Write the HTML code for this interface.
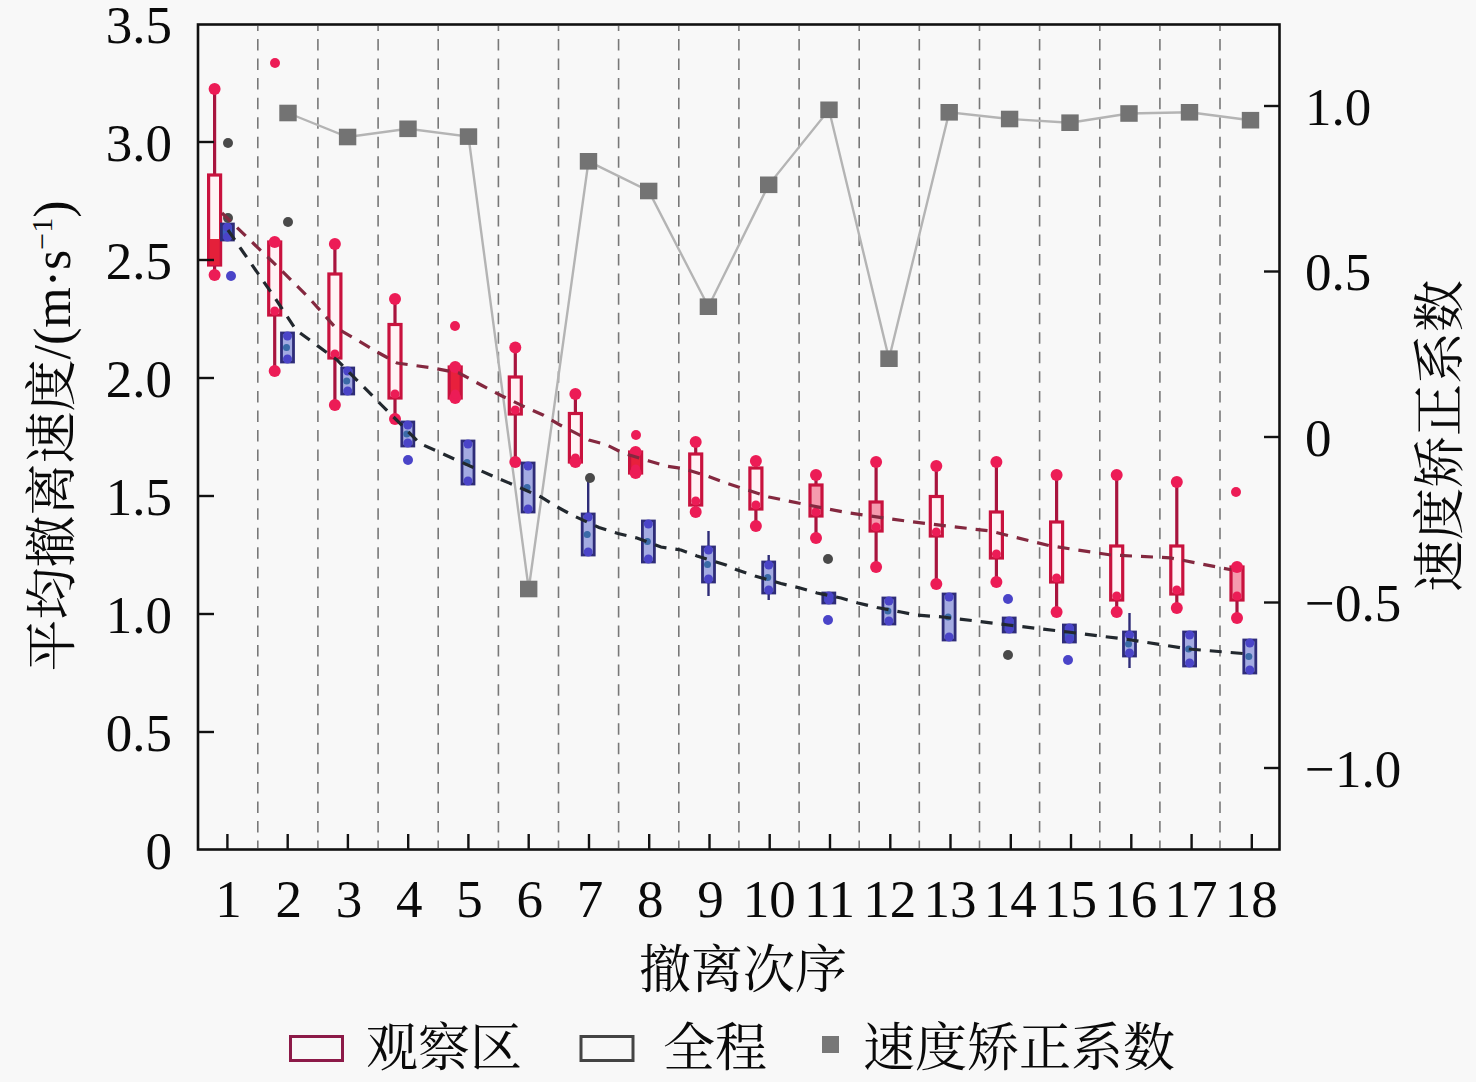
<!DOCTYPE html>
<html><head><meta charset="utf-8"><style>
html,body{margin:0;padding:0;background:#f8f8f8;}
svg{display:block;}
.n{font-family:"Liberation Serif",serif;font-size:53px;fill:#0a0a0a;}
.c{font-family:"Liberation Serif","Noto Serif CJK SC",serif;font-size:52px;fill:#0a0a0a;}
</style></head><body>
<svg width="1476" height="1082" viewBox="0 0 1476 1082">
<rect width="1476" height="1082" fill="#f8f8f8"/>
<line x1="257.8" y1="26" x2="257.8" y2="848" stroke="#787878" stroke-width="1.6" stroke-dasharray="11.5 8.05" stroke-dashoffset="6.55"/>
<line x1="317.9" y1="26" x2="317.9" y2="848" stroke="#787878" stroke-width="1.6" stroke-dasharray="11.5 8.05" stroke-dashoffset="6.55"/>
<line x1="378.1" y1="26" x2="378.1" y2="848" stroke="#787878" stroke-width="1.6" stroke-dasharray="11.5 8.05" stroke-dashoffset="6.55"/>
<line x1="438.2" y1="26" x2="438.2" y2="848" stroke="#787878" stroke-width="1.6" stroke-dasharray="11.5 8.05" stroke-dashoffset="6.55"/>
<line x1="498.4" y1="26" x2="498.4" y2="848" stroke="#787878" stroke-width="1.6" stroke-dasharray="11.5 8.05" stroke-dashoffset="6.55"/>
<line x1="558.5" y1="26" x2="558.5" y2="848" stroke="#787878" stroke-width="1.6" stroke-dasharray="11.5 8.05" stroke-dashoffset="6.55"/>
<line x1="618.6" y1="26" x2="618.6" y2="848" stroke="#787878" stroke-width="1.6" stroke-dasharray="11.5 8.05" stroke-dashoffset="6.55"/>
<line x1="678.8" y1="26" x2="678.8" y2="848" stroke="#787878" stroke-width="1.6" stroke-dasharray="11.5 8.05" stroke-dashoffset="6.55"/>
<line x1="738.9" y1="26" x2="738.9" y2="848" stroke="#787878" stroke-width="1.6" stroke-dasharray="11.5 8.05" stroke-dashoffset="6.55"/>
<line x1="799.1" y1="26" x2="799.1" y2="848" stroke="#787878" stroke-width="1.6" stroke-dasharray="11.5 8.05" stroke-dashoffset="6.55"/>
<line x1="859.2" y1="26" x2="859.2" y2="848" stroke="#787878" stroke-width="1.6" stroke-dasharray="11.5 8.05" stroke-dashoffset="6.55"/>
<line x1="919.3" y1="26" x2="919.3" y2="848" stroke="#787878" stroke-width="1.6" stroke-dasharray="11.5 8.05" stroke-dashoffset="6.55"/>
<line x1="979.5" y1="26" x2="979.5" y2="848" stroke="#787878" stroke-width="1.6" stroke-dasharray="11.5 8.05" stroke-dashoffset="6.55"/>
<line x1="1039.6" y1="26" x2="1039.6" y2="848" stroke="#787878" stroke-width="1.6" stroke-dasharray="11.5 8.05" stroke-dashoffset="6.55"/>
<line x1="1099.8" y1="26" x2="1099.8" y2="848" stroke="#787878" stroke-width="1.6" stroke-dasharray="11.5 8.05" stroke-dashoffset="6.55"/>
<line x1="1159.9" y1="26" x2="1159.9" y2="848" stroke="#787878" stroke-width="1.6" stroke-dasharray="11.5 8.05" stroke-dashoffset="6.55"/>
<line x1="1220.0" y1="26" x2="1220.0" y2="848" stroke="#787878" stroke-width="1.6" stroke-dasharray="11.5 8.05" stroke-dashoffset="6.55"/>
<polyline points="288,113 347.6,137 408,128.8 468.5,136.6 528.7,589 588.5,161.3 648.7,191 708.4,306.7 768.7,184.8 829,109.8 889,358.7 949.2,112.3 1009.6,119 1070,122.7 1129,113.5 1189.5,112.3 1250.5,120.2" fill="none" stroke="#b4b4b4" stroke-width="2.4"/>
<rect x="279.3" y="104.7" width="17.4" height="16.6" fill="#737373"/>
<rect x="338.9" y="128.7" width="17.4" height="16.6" fill="#737373"/>
<rect x="399.3" y="120.5" width="17.4" height="16.6" fill="#737373"/>
<rect x="459.8" y="128.3" width="17.4" height="16.6" fill="#737373"/>
<rect x="520.0" y="580.7" width="17.4" height="16.6" fill="#737373"/>
<rect x="579.8" y="153.0" width="17.4" height="16.6" fill="#737373"/>
<rect x="640.0" y="182.7" width="17.4" height="16.6" fill="#737373"/>
<rect x="699.7" y="298.4" width="17.4" height="16.6" fill="#737373"/>
<rect x="760.0" y="176.5" width="17.4" height="16.6" fill="#737373"/>
<rect x="820.3" y="101.5" width="17.4" height="16.6" fill="#737373"/>
<rect x="880.3" y="350.4" width="17.4" height="16.6" fill="#737373"/>
<rect x="940.5" y="104.0" width="17.4" height="16.6" fill="#737373"/>
<rect x="1000.9" y="110.7" width="17.4" height="16.6" fill="#737373"/>
<rect x="1061.3" y="114.4" width="17.4" height="16.6" fill="#737373"/>
<rect x="1120.3" y="105.2" width="17.4" height="16.6" fill="#737373"/>
<rect x="1180.8" y="104.0" width="17.4" height="16.6" fill="#737373"/>
<rect x="1241.8" y="111.9" width="17.4" height="16.6" fill="#737373"/>
<line x1="214.6" y1="89" x2="214.6" y2="275" stroke="#a8143e" stroke-width="3.2"/>
<rect x="208.6" y="175" width="12" height="90" fill="#fff2f5" stroke="#c8123e" stroke-width="3.2"/>
<circle cx="214.6" cy="89" r="6" fill="#ec1c56"/><circle cx="214.6" cy="275" r="6" fill="#ec1c56"/>
<circle cx="214.6" cy="261" r="4.5" fill="#ec1c56"/>
<rect x="209.6" y="239" width="10" height="26" fill="#e4203a"/>
<line x1="274.7" y1="242" x2="274.7" y2="371" stroke="#a8143e" stroke-width="3.2"/>
<rect x="268.7" y="242" width="12" height="73" fill="#fff2f5" stroke="#c8123e" stroke-width="3.2"/>
<circle cx="274.7" cy="242" r="6" fill="#ec1c56"/><circle cx="274.7" cy="371" r="6" fill="#ec1c56"/>
<circle cx="274.7" cy="311" r="4.5" fill="#ec1c56"/>
<line x1="334.9" y1="244" x2="334.9" y2="405" stroke="#a8143e" stroke-width="3.2"/>
<rect x="328.9" y="274" width="12" height="84" fill="#fff2f5" stroke="#c8123e" stroke-width="3.2"/>
<circle cx="334.9" cy="244" r="6" fill="#ec1c56"/><circle cx="334.9" cy="405" r="6" fill="#ec1c56"/>
<circle cx="334.9" cy="354" r="4.5" fill="#ec1c56"/>
<line x1="395.0" y1="299" x2="395.0" y2="419" stroke="#a8143e" stroke-width="3.2"/>
<rect x="389.0" y="324.5" width="12" height="73.5" fill="#fff2f5" stroke="#c8123e" stroke-width="3.2"/>
<circle cx="395.0" cy="299" r="6" fill="#ec1c56"/><circle cx="395.0" cy="419" r="6" fill="#ec1c56"/>
<circle cx="395.0" cy="394" r="4.5" fill="#ec1c56"/>
<line x1="455.2" y1="367" x2="455.2" y2="398" stroke="#a8143e" stroke-width="3.2"/>
<rect x="449.2" y="367" width="12" height="31" fill="#e8203c" stroke="#c8123e" stroke-width="3.2"/>
<circle cx="455.2" cy="367" r="6" fill="#ec1c56"/><circle cx="455.2" cy="398" r="6" fill="#ec1c56"/>
<circle cx="455.2" cy="394" r="4.5" fill="#ec1c56"/>
<line x1="515.3" y1="347.5" x2="515.3" y2="462" stroke="#a8143e" stroke-width="3.2"/>
<rect x="509.3" y="377" width="12" height="37" fill="#fff2f5" stroke="#c8123e" stroke-width="3.2"/>
<circle cx="515.3" cy="347.5" r="6" fill="#ec1c56"/><circle cx="515.3" cy="462" r="6" fill="#ec1c56"/>
<circle cx="515.3" cy="410" r="4.5" fill="#ec1c56"/>
<line x1="575.4" y1="394" x2="575.4" y2="462" stroke="#a8143e" stroke-width="3.2"/>
<rect x="569.4" y="413.5" width="12" height="48.5" fill="#fff2f5" stroke="#c8123e" stroke-width="3.2"/>
<circle cx="575.4" cy="394" r="6" fill="#ec1c56"/><circle cx="575.4" cy="462" r="6" fill="#ec1c56"/>
<circle cx="575.4" cy="458" r="4.5" fill="#ec1c56"/>
<line x1="635.6" y1="452" x2="635.6" y2="473" stroke="#a8143e" stroke-width="3.2"/>
<rect x="629.6" y="452" width="12" height="21" fill="#e8203c" stroke="#c8123e" stroke-width="3.2"/>
<circle cx="635.6" cy="452" r="6" fill="#ec1c56"/><circle cx="635.6" cy="473" r="6" fill="#ec1c56"/>
<circle cx="635.6" cy="469" r="4.5" fill="#ec1c56"/>
<line x1="695.7" y1="442" x2="695.7" y2="512" stroke="#a8143e" stroke-width="3.2"/>
<rect x="689.7" y="454" width="12" height="51" fill="#fff2f5" stroke="#c8123e" stroke-width="3.2"/>
<circle cx="695.7" cy="442" r="6" fill="#ec1c56"/><circle cx="695.7" cy="512" r="6" fill="#ec1c56"/>
<circle cx="695.7" cy="501" r="4.5" fill="#ec1c56"/>
<line x1="755.9" y1="461" x2="755.9" y2="526" stroke="#a8143e" stroke-width="3.2"/>
<rect x="749.9" y="468" width="12" height="41" fill="#fff2f5" stroke="#c8123e" stroke-width="3.2"/>
<circle cx="755.9" cy="461" r="6" fill="#ec1c56"/><circle cx="755.9" cy="526" r="6" fill="#ec1c56"/>
<circle cx="755.9" cy="505" r="4.5" fill="#ec1c56"/>
<line x1="816.0" y1="475" x2="816.0" y2="538" stroke="#a8143e" stroke-width="3.2"/>
<rect x="810.0" y="485" width="12" height="31" fill="#f59aae" stroke="#c8123e" stroke-width="3.2"/>
<circle cx="816.0" cy="475" r="6" fill="#ec1c56"/><circle cx="816.0" cy="538" r="6" fill="#ec1c56"/>
<circle cx="816.0" cy="512" r="4.5" fill="#ec1c56"/>
<line x1="876.1" y1="462" x2="876.1" y2="567" stroke="#a8143e" stroke-width="3.2"/>
<rect x="870.1" y="502" width="12" height="29" fill="#f59aae" stroke="#c8123e" stroke-width="3.2"/>
<circle cx="876.1" cy="462" r="6" fill="#ec1c56"/><circle cx="876.1" cy="567" r="6" fill="#ec1c56"/>
<circle cx="876.1" cy="527" r="4.5" fill="#ec1c56"/>
<line x1="936.3" y1="466" x2="936.3" y2="584" stroke="#a8143e" stroke-width="3.2"/>
<rect x="930.3" y="496.5" width="12" height="39.5" fill="#fff2f5" stroke="#c8123e" stroke-width="3.2"/>
<circle cx="936.3" cy="466" r="6" fill="#ec1c56"/><circle cx="936.3" cy="584" r="6" fill="#ec1c56"/>
<circle cx="936.3" cy="532" r="4.5" fill="#ec1c56"/>
<line x1="996.4" y1="462" x2="996.4" y2="582" stroke="#a8143e" stroke-width="3.2"/>
<rect x="990.4" y="512" width="12" height="46" fill="#fff2f5" stroke="#c8123e" stroke-width="3.2"/>
<circle cx="996.4" cy="462" r="6" fill="#ec1c56"/><circle cx="996.4" cy="582" r="6" fill="#ec1c56"/>
<circle cx="996.4" cy="554" r="4.5" fill="#ec1c56"/>
<line x1="1056.6" y1="475" x2="1056.6" y2="612" stroke="#a8143e" stroke-width="3.2"/>
<rect x="1050.6" y="522" width="12" height="60" fill="#fff2f5" stroke="#c8123e" stroke-width="3.2"/>
<circle cx="1056.6" cy="475" r="6" fill="#ec1c56"/><circle cx="1056.6" cy="612" r="6" fill="#ec1c56"/>
<circle cx="1056.6" cy="578" r="4.5" fill="#ec1c56"/>
<line x1="1116.7" y1="475" x2="1116.7" y2="612" stroke="#a8143e" stroke-width="3.2"/>
<rect x="1110.7" y="546" width="12" height="54" fill="#fff2f5" stroke="#c8123e" stroke-width="3.2"/>
<circle cx="1116.7" cy="475" r="6" fill="#ec1c56"/><circle cx="1116.7" cy="612" r="6" fill="#ec1c56"/>
<circle cx="1116.7" cy="596" r="4.5" fill="#ec1c56"/>
<line x1="1176.8" y1="482" x2="1176.8" y2="608" stroke="#a8143e" stroke-width="3.2"/>
<rect x="1170.8" y="546" width="12" height="48" fill="#fff2f5" stroke="#c8123e" stroke-width="3.2"/>
<circle cx="1176.8" cy="482" r="6" fill="#ec1c56"/><circle cx="1176.8" cy="608" r="6" fill="#ec1c56"/>
<circle cx="1176.8" cy="590" r="4.5" fill="#ec1c56"/>
<line x1="1237.0" y1="567" x2="1237.0" y2="618" stroke="#a8143e" stroke-width="3.2"/>
<rect x="1231.0" y="567" width="12" height="33" fill="#f59aae" stroke="#c8123e" stroke-width="3.2"/>
<circle cx="1237.0" cy="567" r="6" fill="#ec1c56"/><circle cx="1237.0" cy="618" r="6" fill="#ec1c56"/>
<circle cx="1237.0" cy="596" r="4.5" fill="#ec1c56"/>
<line x1="227.4" y1="224" x2="227.4" y2="240" stroke="#2e2c78" stroke-width="2.4"/>
<rect x="221.4" y="224" width="12" height="16" fill="#3c5ec0" stroke="#2e2c78" stroke-width="2.8"/>
<circle cx="227.4" cy="227" r="4.5" fill="#4a44c8"/><circle cx="227.4" cy="237" r="4.5" fill="#4a44c8"/>
<line x1="287.5" y1="333" x2="287.5" y2="362" stroke="#2e2c78" stroke-width="2.4"/>
<rect x="281.5" y="333" width="12" height="29" fill="#a4abe2" stroke="#2e2c78" stroke-width="2.8"/>
<circle cx="287.5" cy="336" r="4.5" fill="#4a44c8"/><circle cx="287.5" cy="359" r="4.5" fill="#4a44c8"/>
<circle cx="286.5" cy="347.5" r="3.5" fill="#3a6aa8"/>
<line x1="347.7" y1="368" x2="347.7" y2="394" stroke="#2e2c78" stroke-width="2.4"/>
<rect x="341.7" y="368" width="12" height="26" fill="#a4abe2" stroke="#2e2c78" stroke-width="2.8"/>
<circle cx="347.7" cy="371" r="4.5" fill="#4a44c8"/><circle cx="347.7" cy="391" r="4.5" fill="#4a44c8"/>
<circle cx="346.7" cy="381.0" r="3.5" fill="#3a6aa8"/>
<line x1="407.8" y1="422" x2="407.8" y2="446" stroke="#2e2c78" stroke-width="2.4"/>
<rect x="401.8" y="422" width="12" height="24" fill="#a4abe2" stroke="#2e2c78" stroke-width="2.8"/>
<circle cx="407.8" cy="425" r="4.5" fill="#4a44c8"/><circle cx="407.8" cy="443" r="4.5" fill="#4a44c8"/>
<circle cx="406.8" cy="434.0" r="3.5" fill="#3a6aa8"/>
<line x1="468.0" y1="441" x2="468.0" y2="484" stroke="#2e2c78" stroke-width="2.4"/>
<rect x="462.0" y="441" width="12" height="43" fill="#a4abe2" stroke="#2e2c78" stroke-width="2.8"/>
<circle cx="468.0" cy="444" r="4.5" fill="#4a44c8"/><circle cx="468.0" cy="481" r="4.5" fill="#4a44c8"/>
<circle cx="467.0" cy="462.5" r="3.5" fill="#3a6aa8"/>
<line x1="528.1" y1="463" x2="528.1" y2="512" stroke="#2e2c78" stroke-width="2.4"/>
<rect x="522.1" y="463" width="12" height="49" fill="#a4abe2" stroke="#2e2c78" stroke-width="2.8"/>
<circle cx="528.1" cy="466" r="4.5" fill="#4a44c8"/><circle cx="528.1" cy="509" r="4.5" fill="#4a44c8"/>
<circle cx="527.1" cy="487.5" r="3.5" fill="#3a6aa8"/>
<line x1="588.2" y1="478" x2="588.2" y2="555" stroke="#2e2c78" stroke-width="2.4"/>
<rect x="582.2" y="514" width="12" height="41" fill="#a4abe2" stroke="#2e2c78" stroke-width="2.8"/>
<circle cx="588.2" cy="517" r="4.5" fill="#4a44c8"/><circle cx="588.2" cy="552" r="4.5" fill="#4a44c8"/>
<circle cx="587.2" cy="534.5" r="3.5" fill="#3a6aa8"/>
<line x1="648.4" y1="521" x2="648.4" y2="562" stroke="#2e2c78" stroke-width="2.4"/>
<rect x="642.4" y="521" width="12" height="41" fill="#a4abe2" stroke="#2e2c78" stroke-width="2.8"/>
<circle cx="648.4" cy="524" r="4.5" fill="#4a44c8"/><circle cx="648.4" cy="559" r="4.5" fill="#4a44c8"/>
<circle cx="647.4" cy="541.5" r="3.5" fill="#3a6aa8"/>
<line x1="708.5" y1="531" x2="708.5" y2="596" stroke="#2e2c78" stroke-width="2.4"/>
<rect x="702.5" y="547" width="12" height="35" fill="#a4abe2" stroke="#2e2c78" stroke-width="2.8"/>
<circle cx="708.5" cy="550" r="4.5" fill="#4a44c8"/><circle cx="708.5" cy="579" r="4.5" fill="#4a44c8"/>
<circle cx="707.5" cy="564.5" r="3.5" fill="#3a6aa8"/>
<line x1="768.7" y1="555" x2="768.7" y2="600" stroke="#2e2c78" stroke-width="2.4"/>
<rect x="762.7" y="562" width="12" height="31" fill="#a4abe2" stroke="#2e2c78" stroke-width="2.8"/>
<circle cx="768.7" cy="565" r="4.5" fill="#4a44c8"/><circle cx="768.7" cy="590" r="4.5" fill="#4a44c8"/>
<circle cx="767.7" cy="577.5" r="3.5" fill="#3a6aa8"/>
<line x1="828.8" y1="593" x2="828.8" y2="603" stroke="#2e2c78" stroke-width="2.4"/>
<rect x="822.8" y="593" width="12" height="10" fill="#3c5ec0" stroke="#2e2c78" stroke-width="2.8"/>
<circle cx="828.8" cy="596" r="4.5" fill="#4a44c8"/><circle cx="828.8" cy="600" r="4.5" fill="#4a44c8"/>
<line x1="888.9" y1="598" x2="888.9" y2="624" stroke="#2e2c78" stroke-width="2.4"/>
<rect x="882.9" y="598" width="12" height="26" fill="#a4abe2" stroke="#2e2c78" stroke-width="2.8"/>
<circle cx="888.9" cy="601" r="4.5" fill="#4a44c8"/><circle cx="888.9" cy="621" r="4.5" fill="#4a44c8"/>
<circle cx="887.9" cy="611.0" r="3.5" fill="#3a6aa8"/>
<line x1="949.1" y1="594" x2="949.1" y2="640" stroke="#2e2c78" stroke-width="2.4"/>
<rect x="943.1" y="594" width="12" height="46" fill="#a4abe2" stroke="#2e2c78" stroke-width="2.8"/>
<circle cx="949.1" cy="597" r="4.5" fill="#4a44c8"/><circle cx="949.1" cy="637" r="4.5" fill="#4a44c8"/>
<circle cx="948.1" cy="617.0" r="3.5" fill="#3a6aa8"/>
<line x1="1009.2" y1="618" x2="1009.2" y2="632" stroke="#2e2c78" stroke-width="2.4"/>
<rect x="1003.2" y="618" width="12" height="14" fill="#3c5ec0" stroke="#2e2c78" stroke-width="2.8"/>
<circle cx="1009.2" cy="621" r="4.5" fill="#4a44c8"/><circle cx="1009.2" cy="629" r="4.5" fill="#4a44c8"/>
<line x1="1069.4" y1="625" x2="1069.4" y2="642" stroke="#2e2c78" stroke-width="2.4"/>
<rect x="1063.4" y="625" width="12" height="17" fill="#3c5ec0" stroke="#2e2c78" stroke-width="2.8"/>
<circle cx="1069.4" cy="628" r="4.5" fill="#4a44c8"/><circle cx="1069.4" cy="639" r="4.5" fill="#4a44c8"/>
<line x1="1129.5" y1="613" x2="1129.5" y2="668" stroke="#2e2c78" stroke-width="2.4"/>
<rect x="1123.5" y="632" width="12" height="24" fill="#a4abe2" stroke="#2e2c78" stroke-width="2.8"/>
<circle cx="1129.5" cy="635" r="4.5" fill="#4a44c8"/><circle cx="1129.5" cy="653" r="4.5" fill="#4a44c8"/>
<circle cx="1128.5" cy="644.0" r="3.5" fill="#3a6aa8"/>
<line x1="1189.6" y1="632" x2="1189.6" y2="666" stroke="#2e2c78" stroke-width="2.4"/>
<rect x="1183.6" y="632" width="12" height="34" fill="#a4abe2" stroke="#2e2c78" stroke-width="2.8"/>
<circle cx="1189.6" cy="635" r="4.5" fill="#4a44c8"/><circle cx="1189.6" cy="663" r="4.5" fill="#4a44c8"/>
<circle cx="1188.6" cy="649.0" r="3.5" fill="#3a6aa8"/>
<line x1="1249.8" y1="640" x2="1249.8" y2="673" stroke="#2e2c78" stroke-width="2.4"/>
<rect x="1243.8" y="640" width="12" height="33" fill="#a4abe2" stroke="#2e2c78" stroke-width="2.8"/>
<circle cx="1249.8" cy="643" r="4.5" fill="#4a44c8"/><circle cx="1249.8" cy="670" r="4.5" fill="#4a44c8"/>
<circle cx="1248.8" cy="656.5" r="3.5" fill="#3a6aa8"/>
<circle cx="455" cy="326" r="5" fill="#ec1c56"/>
<circle cx="636" cy="435" r="5" fill="#ec1c56"/>
<circle cx="1236" cy="492" r="5" fill="#ec1c56"/>
<circle cx="275" cy="63" r="5" fill="#ec1c56"/>
<circle cx="231" cy="276" r="5" fill="#4a44c8"/>
<circle cx="408" cy="460" r="5" fill="#4a44c8"/>
<circle cx="828" cy="620" r="5" fill="#4a44c8"/>
<circle cx="1008" cy="599" r="5" fill="#4a44c8"/>
<circle cx="1068" cy="660" r="5" fill="#4a44c8"/>
<circle cx="228" cy="143" r="5" fill="#4a4a4a"/>
<circle cx="228" cy="218" r="5" fill="#4a4a4a"/>
<circle cx="288" cy="222" r="5" fill="#4a4a4a"/>
<circle cx="590" cy="478" r="5" fill="#4a4a4a"/>
<circle cx="828" cy="559" r="5" fill="#4a4a4a"/>
<circle cx="1008" cy="655" r="5" fill="#4a4a4a"/>
<polyline points="222,213 254,244 278,267 309,298 335,327 379,353 397,363 433,368 459,373 483,386 502,396 527,408 543,415 560,425 589,440 606,444.5 623,453 649,461 666,466 683,468.5 707,476 726,483 769,497 786,500.5 803,504 846,512.5 863,515 889,518.6 906,521 930,524 990,531 1050,545.8 1111,555 1170,557.8 1231,569.8" fill="none" stroke="#84283f" stroke-width="3.2" stroke-dasharray="12 9"/>
<polyline points="228,230 241,249 275,298 296,330 337,360 381,404.5 420,443.5 452,458 479,470 496,477.6 514,485 541,497 555,505.7 572,515 599,527.5 618,533.5 637,538 661,547 681,550 697,556 726,565 736,569.5 755,576 781,583.5 800,588 817,593 841,598 858,603 877,607.5 901,612 916,615 943,617 1008,625 1068,632 1128,639.5 1189,649 1249,654" fill="none" stroke="#22282e" stroke-width="3.2" stroke-dasharray="12 9"/>
<rect x="198" y="24.5" width="1081.5" height="825" fill="none" stroke="#111" stroke-width="2.6"/>
<line x1="198" y1="732.0" x2="214" y2="732.0" stroke="#111" stroke-width="2.4"/>
<line x1="198" y1="614.0" x2="214" y2="614.0" stroke="#111" stroke-width="2.4"/>
<line x1="198" y1="496.0" x2="214" y2="496.0" stroke="#111" stroke-width="2.4"/>
<line x1="198" y1="378.0" x2="214" y2="378.0" stroke="#111" stroke-width="2.4"/>
<line x1="198" y1="260.0" x2="214" y2="260.0" stroke="#111" stroke-width="2.4"/>
<line x1="198" y1="142.0" x2="214" y2="142.0" stroke="#111" stroke-width="2.4"/>
<line x1="1264" y1="768.0" x2="1280" y2="768.0" stroke="#111" stroke-width="2.4"/>
<line x1="1264" y1="602.5" x2="1280" y2="602.5" stroke="#111" stroke-width="2.4"/>
<line x1="1264" y1="437" x2="1280" y2="437" stroke="#111" stroke-width="2.4"/>
<line x1="1264" y1="271.5" x2="1280" y2="271.5" stroke="#111" stroke-width="2.4"/>
<line x1="1264" y1="106.0" x2="1280" y2="106.0" stroke="#111" stroke-width="2.4"/>
<line x1="227.4" y1="834" x2="227.4" y2="850" stroke="#111" stroke-width="2.4"/>
<line x1="287.7" y1="834" x2="287.7" y2="850" stroke="#111" stroke-width="2.4"/>
<line x1="347.9" y1="834" x2="347.9" y2="850" stroke="#111" stroke-width="2.4"/>
<line x1="408.2" y1="834" x2="408.2" y2="850" stroke="#111" stroke-width="2.4"/>
<line x1="468.4" y1="834" x2="468.4" y2="850" stroke="#111" stroke-width="2.4"/>
<line x1="528.7" y1="834" x2="528.7" y2="850" stroke="#111" stroke-width="2.4"/>
<line x1="589.0" y1="834" x2="589.0" y2="850" stroke="#111" stroke-width="2.4"/>
<line x1="649.2" y1="834" x2="649.2" y2="850" stroke="#111" stroke-width="2.4"/>
<line x1="709.5" y1="834" x2="709.5" y2="850" stroke="#111" stroke-width="2.4"/>
<line x1="769.7" y1="834" x2="769.7" y2="850" stroke="#111" stroke-width="2.4"/>
<line x1="830.0" y1="834" x2="830.0" y2="850" stroke="#111" stroke-width="2.4"/>
<line x1="890.3" y1="834" x2="890.3" y2="850" stroke="#111" stroke-width="2.4"/>
<line x1="950.5" y1="834" x2="950.5" y2="850" stroke="#111" stroke-width="2.4"/>
<line x1="1010.8" y1="834" x2="1010.8" y2="850" stroke="#111" stroke-width="2.4"/>
<line x1="1071.0" y1="834" x2="1071.0" y2="850" stroke="#111" stroke-width="2.4"/>
<line x1="1131.3" y1="834" x2="1131.3" y2="850" stroke="#111" stroke-width="2.4"/>
<line x1="1191.6" y1="834" x2="1191.6" y2="850" stroke="#111" stroke-width="2.4"/>
<line x1="1251.8" y1="834" x2="1251.8" y2="850" stroke="#111" stroke-width="2.4"/>
<text x="172" y="868.5" text-anchor="end" class="n">0</text>
<text x="172" y="750.5" text-anchor="end" class="n">0.5</text>
<text x="172" y="632.5" text-anchor="end" class="n">1.0</text>
<text x="172" y="514.5" text-anchor="end" class="n">1.5</text>
<text x="172" y="396.5" text-anchor="end" class="n">2.0</text>
<text x="172" y="278.5" text-anchor="end" class="n">2.5</text>
<text x="172" y="160.5" text-anchor="end" class="n">3.0</text>
<text x="172" y="42.5" text-anchor="end" class="n">3.5</text>
<text x="1305" y="124.5" class="n">1.0</text>
<text x="1305" y="290.0" class="n">0.5</text>
<text x="1305" y="455.5" class="n">0</text>
<text x="1305" y="621.0" class="n">−0.5</text>
<text x="1305" y="786.5" class="n">−1.0</text>
<text x="228.4" y="916.5" text-anchor="middle" class="n">1</text>
<text x="288.7" y="916.5" text-anchor="middle" class="n">2</text>
<text x="348.9" y="916.5" text-anchor="middle" class="n">3</text>
<text x="409.2" y="916.5" text-anchor="middle" class="n">4</text>
<text x="469.4" y="916.5" text-anchor="middle" class="n">5</text>
<text x="529.7" y="916.5" text-anchor="middle" class="n">6</text>
<text x="590.0" y="916.5" text-anchor="middle" class="n">7</text>
<text x="650.2" y="916.5" text-anchor="middle" class="n">8</text>
<text x="710.5" y="916.5" text-anchor="middle" class="n">9</text>
<text x="769.2" y="916.5" text-anchor="middle" class="n">10</text>
<text x="829.5" y="916.5" text-anchor="middle" class="n">11</text>
<text x="889.8" y="916.5" text-anchor="middle" class="n">12</text>
<text x="950.0" y="916.5" text-anchor="middle" class="n">13</text>
<text x="1010.3" y="916.5" text-anchor="middle" class="n">14</text>
<text x="1070.5" y="916.5" text-anchor="middle" class="n">15</text>
<text x="1130.8" y="916.5" text-anchor="middle" class="n">16</text>
<text x="1191.1" y="916.5" text-anchor="middle" class="n">17</text>
<text x="1251.3" y="916.5" text-anchor="middle" class="n">18</text>
<text x="743" y="988" text-anchor="middle" class="c">撤离次序</text>
<text transform="translate(70,436) rotate(-90)" text-anchor="middle" class="c">平均撤离速度/(m·s<tspan dy="-18" font-size="30">−1</tspan><tspan dy="18">)</tspan></text>
<text transform="translate(1458,436) rotate(-90)" text-anchor="middle" class="c">速度矫正系数</text>
<rect x="290.5" y="1036.5" width="52" height="24" fill="none" stroke="#8c1a48" stroke-width="3"/>
<text x="366" y="1066" class="c">观察区</text>
<rect x="581" y="1036.5" width="52" height="24" fill="none" stroke="#444" stroke-width="3"/>
<text x="663" y="1066" class="c">全程</text>
<rect x="822" y="1036" width="17" height="17" fill="#777"/>
<text x="863" y="1066" class="c">速度矫正系数</text>
</svg>
</body></html>
